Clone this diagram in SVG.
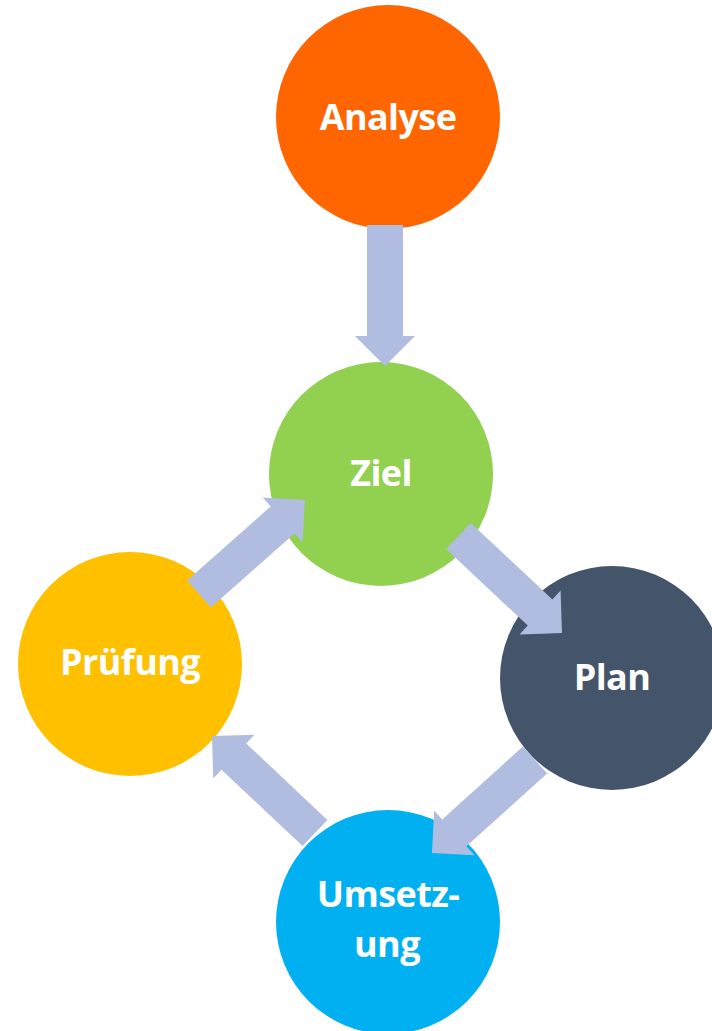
<svg xmlns="http://www.w3.org/2000/svg" width="712" height="1031" viewBox="0 0 712 1031">
  <style>
    .lbl { font-family: "Open Sans", "Liberation Sans", sans-serif; font-weight: 700; font-size: 36px; letter-spacing: -0.6px; fill: #FFFFFF; text-anchor: middle; }
    .arrow { fill: #B0BDE0; stroke: none; }
  </style>
  <rect width="712" height="1031" fill="#FFFFFF"/>
  <g id="node-analyse">
    <circle cx="388" cy="117" r="112" fill="#FF6600"/>
    <text class="lbl" x="388" y="130">Analyse</text>
  </g>
  <g id="node-ziel">
    <circle cx="381" cy="474" r="112" fill="#92D050"/>
    <text class="lbl" x="381" y="486">Ziel</text>
  </g>
  <g id="node-plan">
    <circle cx="612" cy="678" r="112" fill="#44546A"/>
    <text class="lbl" x="612" y="690">Plan</text>
  </g>
  <g id="node-pruefung">
    <circle cx="130" cy="664" r="112" fill="#FFC000"/>
    <text class="lbl" x="130" y="675">Prüfung</text>
  </g>
  <g id="node-umsetzung">
    <circle cx="388" cy="922" r="112" fill="#00B0F0"/>
    <text class="lbl" x="388" y="907">Umsetz-</text>
    <text class="lbl" x="387" y="957">ung</text>
  </g>
  <g id="connectors">
    <polygon class="arrow" points="367,225 403,225 403,336 415,336 385,366 355,336 367,336"/>
    <polygon class="arrow" points="187.1,580.5 270.7,506.4 262.7,497.5 305,500 302.5,542.3 294.5,533.4 210.9,607.5"/>
    <polygon class="arrow" points="470.8,522.9 552.4,599.4 560.6,590.6 562,633 519.6,634.4 527.8,625.6 446.2,549.1"/>
    <polygon class="arrow" points="547.1,773.4 466.4,846.3 474.4,855.2 432,853 434.2,810.6 442.2,819.5 522.9,746.6"/>
    <polygon class="arrow" points="302.6,846.1 221.5,769.7 213.2,778.4 212,736 254.4,734.8 246.2,743.5 327.4,819.9"/>
  </g>
</svg>
